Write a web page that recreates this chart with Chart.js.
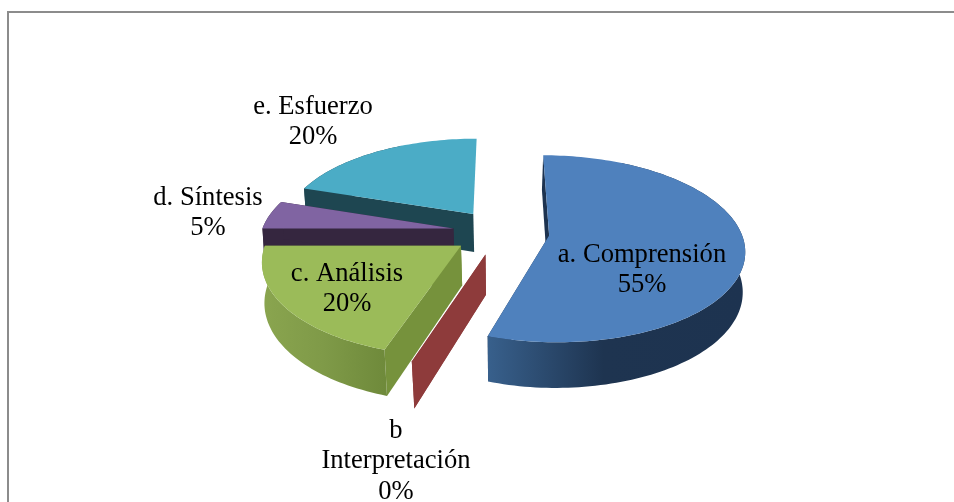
<!DOCTYPE html>
<html><head><meta charset="utf-8">
<style>html,body{margin:0;padding:0;background:#fff}#w{width:954px;height:502px;overflow:hidden}canvas{display:block}</style>
<script src="https://cdn.jsdelivr.net/npm/chart.js@4"></script>
</head><body><div id="w"><canvas id="c" width="954" height="502"></canvas></div>
<script>
const categories = ['a. Comprensión', ['b', 'Interpretación'], 'c. Análisis', 'd. Síntesis', 'e. Esfuerzo'];
const values = [55, 0, 20, 5, 20];
const topColors = ['#4F81BD', '#953735', '#9BBB59', '#8064A2', '#4BACC6'];
const wallStops = [['#38608c', '#1e3450', '#1d3350'], ['#8E3B3B', '#8E3B3B', '#8E3B3B'], ['#8aa54f', '#7f9a48', '#6f8a3b'], ['#35263f', '#35263f', '#35263f'], ['#1e4651', '#1e4651', '#1e4651']];
const cutColors = ['#1d3350', '#8E3B3B', '#76923C', '#35263f', '#1e4651'];
const showEndCut = [true, true, true, true, false];
const labelCentres = [[642, 255], [396, 431], [347, 274], [208, 198], [313, 107]];

const RADIUS = 192, TILT = 0.472, PERSP = 0.00073, DEPTH = 39, BASE_INSET = 2.5, LINE = 30.5;

const pie3d = {
  id: 'pie3d',
  beforeDraw(chart) {
    const c = chart.ctx;
    c.save(); c.fillStyle = '#fff'; c.fillRect(0, 0, 954, 502);
    c.strokeStyle = '#8c8c8c'; c.lineWidth = 2; c.strokeRect(8, 12, 1000, 1000); c.restore();
  },
  beforeDatasetsDraw(chart) {
    const c = chart.ctx, meta = chart.getDatasetMeta(0);
    const project = (el, u, v, low) => {
      const w = 1 - PERSP * v;
      let X = u / w, Y = TILT * v / w;
      if (low) { X -= Math.sign(X) * Math.min(BASE_INSET, Math.abs(X) * 0.03); Y += DEPTH / w; }
      return [el.x + X, el.y + Y];
    };
    const path = (pts) => { c.beginPath(); pts.forEach((p, i) => i ? c.lineTo(p[0], p[1]) : c.moveTo(p[0], p[1])); c.closePath(); };
    const order = meta.data.map((el, i) => i).sort((a, b) => {
      const m = (el) => Math.sin((el.startAngle + el.endAngle) / 2);
      return m(meta.data[a]) - m(meta.data[b]);
    });
    order.forEach((i) => {
      const el = meta.data[i];
      const k = RADIUS / el.outerRadius;
      const mid = (el.startAngle + el.endAngle) / 2;
      const ou = Math.cos(mid) * el.options.offset * k, ov = Math.sin(mid) * el.options.offset * k;
      const n = Math.max(2, Math.ceil((el.endAngle - el.startAngle) * 40));
      const angleAt = (j) => el.startAngle + (el.endAngle - el.startAngle) * j / n;
      const rim = (low) => {
        const a = [];
        for (let j = 0; j <= n; j++) {
          const t = angleAt(j);
          a.push(project(el, ou + RADIUS * Math.cos(t), ov + RADIUS * Math.sin(t), low));
        }
        return a;
      };
      const topRim = rim(false), lowRim = rim(true);
      const facing = (p, j) => Math.sin(angleAt(j)) > -0.9;
      const apexT = project(el, ou, ov, false), apexL = project(el, ou, ov, true);
      c.fillStyle = cutColors[i];
      path([apexT, topRim[0], lowRim[0], apexL]); c.fill();
      if (showEndCut[i]) { path([apexT, topRim[n], lowRim[n], apexL]); c.fill(); }
      if (values[i] > 0) {
        const xs = topRim.map((p) => p[0]);
        const g = c.createLinearGradient(Math.min(...xs), 0, Math.max(...xs), 0);
        const s = wallStops[i];
        g.addColorStop(0, s[0]); g.addColorStop(i === 0 ? 0.45 : 0.5, s[1]); g.addColorStop(1, s[2]);
        c.fillStyle = g;
        path(topRim.filter(facing).concat(lowRim.filter(facing).reverse())); c.fill();
        c.fillStyle = topColors[i];
        path([apexT].concat(topRim)); c.fill();
      }
    });
    return false;
  },
  afterDraw(chart) {
    const c = chart.ctx;
    const total = values.reduce((a, b) => a + b, 0);
    c.save();
    c.fillStyle = '#000'; c.font = '26.6px "Liberation Serif"'; c.textAlign = 'center'; c.textBaseline = 'middle';
    chart.data.labels.forEach((lab, i) => {
      const lines = [].concat(lab, Math.round(values[i] / total * 100) + '%');
      lines.forEach((t, j) => c.fillText(t, labelCentres[i][0], labelCentres[i][1] + j * LINE));
    });
    c.restore();
  }
};

new Chart(document.getElementById('c'), {
  type: 'pie',
  data: { labels: categories, datasets: [{ data: values, backgroundColor: topColors, borderWidth: 0, offset: 52 }] },
  options: {
    responsive: false, animation: false,
    layout: { padding: { left: 48, bottom: 38 } },
    plugins: { legend: { display: false }, tooltip: { enabled: false } }
  },
  plugins: [pie3d]
});
</script></body></html>
